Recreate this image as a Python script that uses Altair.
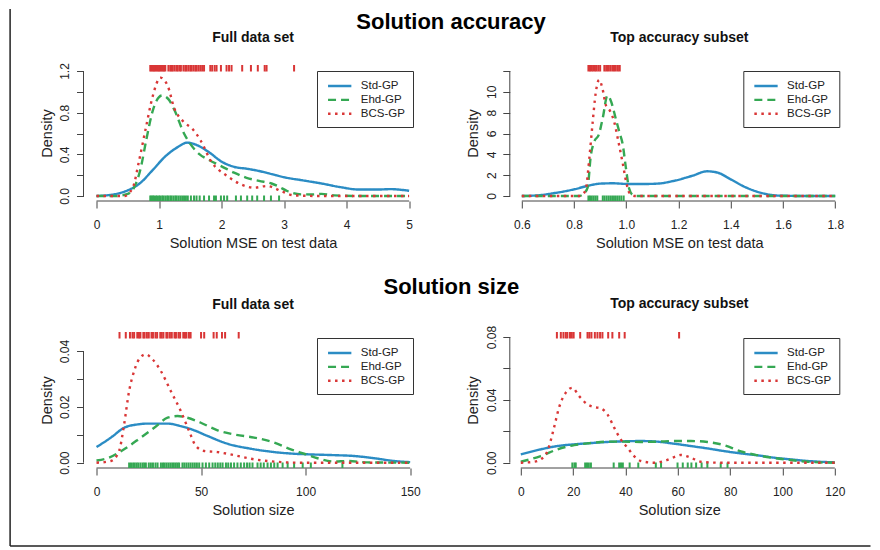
import altair as alt
import pandas as pd

FONT = "Liberation Sans"
SERIES = ["Std-GP", "Ehd-GP", "BCS-GP"]
COLORS = ["#2b8cc4", "#35a853", "#d93636"]
DASHES = [[1, 0], [8, 5], [2.5, 4.5]]
AXC = "#444444"
TXT = "#222222"

# ---------------- Panel A: Solution accuracy, full data set
A_std_x = [0.0, 0.3, 0.5, 0.7, 0.9, 1.1, 1.3, 1.45, 1.6, 1.8, 2.0, 2.2, 2.4, 2.6, 2.8, 3.0, 3.3, 3.6, 3.9, 4.2, 4.5, 4.7, 5.0]
A_std_y = [0.0, 0.018, 0.054, 0.125, 0.25, 0.38, 0.47, 0.512, 0.49, 0.42, 0.33, 0.28, 0.262, 0.24, 0.21, 0.18, 0.15, 0.12, 0.085, 0.062, 0.062, 0.066, 0.05]
A_ehd_x = [0.0, 0.3, 0.5, 0.6, 0.7, 0.8, 0.9, 1.0, 1.05, 1.15, 1.25, 1.4, 1.5, 1.65, 1.8, 2.0, 2.2, 2.4, 2.6, 2.8, 2.9, 3.05, 3.27, 3.45, 3.6, 3.8, 4.2, 5.0]
A_ehd_y = [0.0, 0.0, 0.02, 0.08, 0.25, 0.55, 0.82, 0.95, 0.965, 0.93, 0.82, 0.6, 0.5, 0.4, 0.345, 0.285, 0.224, 0.175, 0.145, 0.12, 0.095, 0.048, 0.016, 0.015, 0.02, 0.006, 0.0, 0.0]
A_bcs_x = [0.0, 0.44, 0.58, 0.68, 0.79, 0.9, 1.02, 1.14, 1.24, 1.38, 1.54, 1.67, 1.83, 2.09, 2.31, 2.52, 2.73, 2.95, 3.16, 3.6, 5.0]
A_bcs_y = [0.0, 0.0, 0.08, 0.336, 0.656, 0.96, 1.136, 1.056, 0.848, 0.72, 0.64, 0.528, 0.336, 0.192, 0.112, 0.08, 0.096, 0.048, 0.006, 0.0, 0.0]
A_rug_bcs = [0.86, 0.88, 0.9, 0.92, 0.94, 0.96, 0.98, 1.0, 1.02, 1.04, 1.06, 1.08, 1.1, 1.15, 1.18, 1.2, 1.22,
             1.25, 1.28, 1.3, 1.33, 1.35, 1.39, 1.42, 1.44, 1.47, 1.5, 1.52, 1.55, 1.58, 1.6, 1.63, 1.66, 1.69,
             1.72, 1.82, 1.85, 1.89, 1.92, 1.99, 2.08, 2.12, 2.16, 2.33, 2.47, 2.58, 2.69, 2.72, 3.16]
A_rug_ehd = [0.86, 0.88, 0.9, 0.92, 0.95, 0.97, 1.0, 1.02, 1.05, 1.07, 1.1, 1.13, 1.15, 1.18, 1.2, 1.23, 1.26,
             1.28, 1.31, 1.34, 1.37, 1.4, 1.43, 1.46, 1.51, 1.56, 1.6, 1.65, 1.72, 1.8, 1.88, 1.91, 1.99, 2.04,
             2.09, 2.23, 2.31, 2.41, 2.49, 2.57, 2.68, 2.79, 2.92]
A_xticks = [0, 1, 2, 3, 4, 5]
A_yticks = [0.0, 0.2, 0.4, 0.6, 0.8, 1.0, 1.2]

# ---------------- Panel B: Solution accuracy, top accuracy subset
B_std_x = [0.6, 0.66, 0.72, 0.8, 0.85, 0.9, 0.95, 1.0, 1.06, 1.12, 1.18, 1.25, 1.31, 1.35, 1.4, 1.46, 1.53, 1.59, 1.7, 1.8]
B_std_y = [0.0, 0.06, 0.26, 0.64, 0.96, 1.19, 1.22, 1.16, 1.15, 1.19, 1.44, 1.92, 2.37, 2.24, 1.6, 0.8, 0.22, 0.03, 0.0, 0.0]
B_ehd_x = [0.6, 0.82, 0.84, 0.852, 0.864, 0.877, 0.895, 0.91, 0.928, 0.94, 0.96, 0.975, 0.986, 0.998, 1.011, 1.025, 1.04, 1.8]
B_ehd_y = [0.0, 0.0, 0.3, 0.8, 3.85, 5.2, 5.9, 7.5, 9.65, 9.2, 7.4, 6.0, 5.0, 2.8, 0.7, 0.1, 0.0, 0.0]
B_bcs_x = [0.6, 0.82, 0.835, 0.845, 0.858, 0.871, 0.883, 0.896, 0.909, 0.922, 0.937, 0.955, 0.97, 0.986, 1.0, 1.012, 1.03, 1.8]
B_bcs_y = [0.0, 0.0, 0.2, 0.64, 3.5, 7.0, 9.9, 11.15, 10.3, 8.7, 8.2, 7.0, 5.2, 3.2, 1.3, 0.3, 0.0, 0.0]
B_rug_bcs = [0.855, 0.861, 0.867, 0.873, 0.88, 0.886, 0.893, 0.9, 0.916, 0.923, 0.93, 0.938, 0.946, 0.953, 0.96, 0.968, 0.975]
B_rug_ehd = [0.855, 0.861, 0.868, 0.875, 0.882, 0.889, 0.91, 0.917, 0.925, 0.933, 0.941, 0.949, 0.957, 0.965, 0.973, 0.981, 0.99]
B_xticks = [0.6, 0.8, 1.0, 1.2, 1.4, 1.6, 1.8]
B_yticks = [0, 2, 4, 6, 8, 10, 12]

# ---------------- Panel C: Solution size, full data set
C_std_x = [0, 6.9, 13.2, 19.6, 24.4, 34, 40.3, 46.7, 53, 62.6, 73.8, 85, 94.5, 100.9, 113.7, 123.2, 132.8, 142.4, 150]
C_std_y = [0.0056, 0.009, 0.0125, 0.0137, 0.014, 0.014, 0.0131, 0.0116, 0.0096, 0.0068, 0.005, 0.0038, 0.0032, 0.003, 0.0027, 0.0024, 0.0016, 0.0006, 0.0002]
C_ehd_x = [0, 5.3, 13.2, 21.2, 27.6, 34, 38.7, 43.5, 49.9, 57.9, 65.8, 75.4, 85, 92.9, 99.3, 105.7, 113.7, 120, 129.6, 150]
C_ehd_y = [0.0008, 0.0016, 0.0048, 0.009, 0.0125, 0.0161, 0.0167, 0.0161, 0.0143, 0.0116, 0.0101, 0.009, 0.0072, 0.0048, 0.0032, 0.0016, 0.0004, 0.0006, 0.0001, 0.0]
C_bcs_x = [0, 6.9, 10.8, 13.2, 15.6, 18, 21.2, 23.6, 26.8, 30.8, 35.5, 40.3, 44.3, 47.5, 51.5, 57.9, 65.8, 75.4, 85, 97.7, 150]
C_bcs_y = [0.0, 0.0006, 0.0042, 0.0137, 0.0257, 0.0328, 0.0379, 0.0388, 0.037, 0.0328, 0.0257, 0.0185, 0.0113, 0.006, 0.0042, 0.0038, 0.0027, 0.0012, 0.0004, 0.0, 0.0]
C_rug_bcs = [11, 14, 16, 17.2, 18, 19.5, 20.3, 21, 22.4, 23, 24.1, 25, 26.3, 27, 28.2, 29, 30.5, 31.2, 32, 33.4,
             34, 35.1, 36, 37.3, 38, 39.2, 40, 41.5, 42.3, 43, 44.2, 45, 50, 51.5, 56, 57.5, 60, 61.5, 68]
C_rug_ehd = [15.6, 16.5, 17.5, 18.3, 19.2, 20, 21, 22, 22.8, 23.6, 25, 26, 27, 28.2, 29.2, 30.8, 31.8, 32.6,
             33.5, 34.4, 35.3, 36.2, 37, 37.9, 38.7, 39.5, 41.1, 42, 43, 44, 45, 46, 47, 48, 49.1, 50.7, 52.3,
             53.9, 55.5, 56.8, 58, 59.2, 60.3, 61.9, 63, 64.3, 65.8, 67.4, 69, 70.6, 72, 73.2, 74.6, 77, 78.5,
             80, 81.8, 83.4, 85, 86.6, 89, 91.4, 94.5, 98.6, 102.5, 117.6]
C_xticks = [0, 50, 100, 150]
C_yticks = [0.0, 0.01, 0.02, 0.03, 0.04]

# ---------------- Panel D: Solution size, top accuracy subset
D_std_x = [0, 7.6, 14, 20.4, 26.8, 33.1, 39.5, 45.9, 52.2, 58.6, 65, 71.3, 77.7, 84.1, 90.4, 96.8, 103.2, 109.6, 120]
D_std_y = [0.0053, 0.0085, 0.0106, 0.0117, 0.0125, 0.0132, 0.0136, 0.0138, 0.0134, 0.0121, 0.0106, 0.0091, 0.0074, 0.0059, 0.0047, 0.0032, 0.0021, 0.0011, 0.0002]
D_ehd_x = [0, 7.6, 14, 20.4, 26.8, 33.1, 39.5, 45.9, 52.2, 58.6, 65, 71.3, 77.7, 84.1, 90.4, 96.8, 103.2, 109.6, 120]
D_ehd_y = [0.0006, 0.0042, 0.0085, 0.0112, 0.0125, 0.0134, 0.0134, 0.0132, 0.0134, 0.0138, 0.0138, 0.0132, 0.0112, 0.0072, 0.0048, 0.003, 0.0017, 0.0006, 0.0]
D_bcs_x = [0, 5.1, 7.6, 10.2, 12.7, 14.6, 17.2, 19.7, 22.3, 25.5, 28, 30.6, 33.1, 35.7, 38.2, 40.8, 43.3, 45.9, 51, 54.8, 58.6, 61.1, 65, 68.8, 76, 120]
D_bcs_y = [0.0, 0.0006, 0.0021, 0.0074, 0.0223, 0.035, 0.0446, 0.0477, 0.0424, 0.0371, 0.0354, 0.0346, 0.0308, 0.0223, 0.0149, 0.0095, 0.0042, 0.0011, 0.0, 0.0011, 0.0036, 0.0049, 0.0032, 0.0006, 0.0, 0.0]
D_rug_bcs = [13.8, 15.3, 16.3, 17.2, 17.8, 18.8, 19.5, 20.2, 22.7, 25.5, 26.2, 27, 28.3, 29.3, 30.3, 31.2, 33.4, 35, 37.6, 39.7, 60.5]
D_rug_ehd = [19.7, 20.5, 21, 24.6, 25.3, 26, 26.8, 35.5, 37.6, 38.3, 39, 41.6, 44.9, 51.6, 53.6, 59.9, 61.9,
             63.8, 65.2, 67, 69.1, 71.3, 76.4, 79]
D_xticks = [0, 20, 40, 60, 80, 100, 120]
D_yticks = [0.0, 0.02, 0.04, 0.06, 0.08]

W, H = 339, 136
ROWGAP = 131


def panel(title, curves, rug_top, rug_bot, xdom, ydom, xticks, yticks, xfmt, ylab, xtitle, toff, frame=None):
    rows = []
    for s, (xs_, ys_) in zip(SERIES, curves):
        for a, b in zip(xs_, ys_):
            rows.append({"series": s, "x": a, "y": b})
    df = pd.DataFrame(rows)
    xsc = alt.Scale(domain=xdom, nice=False, zero=False)
    ysc = alt.Scale(domain=ydom, nice=False, zero=False)
    xaxis = alt.Axis(values=xticks, format=xfmt, domain=False, grid=False, tickSize=7, tickColor=AXC,
                     tickWidth=1, labelFont=FONT, labelFontSize=12, labelColor=TXT, labelBaseline="alphabetic",
                     labelPadding=20, labelFlush=False, labelOverlap=False, title=xtitle, titleFont=FONT,
                     titleFontSize=14.5, titleFontWeight="normal", titleColor=TXT, titleBaseline="alphabetic",
                     titleY=46)
    yaxis = alt.Axis(values=yticks, labelExpr=ylab, domain=False, grid=False, tickSize=7, tickColor=AXC,
                     tickWidth=1, labelFont=FONT, labelFontSize=12, labelColor=TXT, labelAngle=270,
                     labelAlign="center", labelBaseline="alphabetic", labelPadding=7.8, labelFlush=False,
                     labelOverlap=False, title="Density", titleFont=FONT, titleFontSize=14.5,
                     titleFontWeight="normal", titleColor=TXT, titleAngle=270, titleAlign="center",
                     titleBaseline="alphabetic", titleX=-32, titleY=H / 2)
    legend = alt.Legend(title=None, orient="none", legendX=233.5, legendY=6, symbolType="M-2,0H2",
                        symbolSize=136, symbolStrokeWidth=2.4, labelFont=FONT, labelFontSize=11.5,
                        labelColor=TXT, padding=7.5, rowPadding=0.85, symbolOffset=7.7, labelOffset=13.6,
                        strokeColor="#333333", fillColor="white", cornerRadius=0, labelLimit=200)
    lines = alt.Chart(df).mark_line(strokeWidth=2.4, interpolate="monotone").encode(
        x=alt.X("x:Q", scale=xsc, axis=xaxis),
        y=alt.Y("y:Q", scale=ysc, axis=yaxis),
        color=alt.Color("series:N", scale=alt.Scale(domain=SERIES, range=COLORS), legend=legend, sort=SERIES),
        strokeDash=alt.StrokeDash("series:N", scale=alt.Scale(domain=SERIES, range=DASHES), legend=legend,
                                  sort=SERIES),
    )
    rt = alt.Chart(pd.DataFrame({"x": rug_top})).mark_rule(color=COLORS[2], strokeWidth=2).encode(
        x=alt.X("x:Q", scale=xsc, axis=xaxis), y=alt.value(0), y2=alt.value(6.5))
    rb = alt.Chart(pd.DataFrame({"x": rug_bot})).mark_rule(color=COLORS[1], strokeWidth=2).encode(
        x=alt.X("x:Q", scale=xsc, axis=xaxis), y=alt.value(H - 5.5), y2=alt.value(H))
    axx = alt.Chart(pd.DataFrame({"x": [xticks[0]], "x2": [xticks[-1]]})).mark_rule(
        color=AXC, strokeWidth=1).encode(x=alt.X("x:Q", scale=xsc, axis=xaxis), x2="x2:Q", y=alt.value(H))
    axy = alt.Chart(pd.DataFrame({"y": [yticks[0]], "y2": [yticks[-1]]})).mark_rule(
        color=AXC, strokeWidth=1).encode(y=alt.Y("y:Q", scale=ysc, axis=yaxis), y2="y2:Q", x=alt.value(0))
    layers = [axx, axy, rb, rt, lines]
    if frame == "upper":
        layers.append(alt.Chart().mark_rule(color="#222222", strokeWidth=1.5).encode(
            x=alt.value(-73.4), y=alt.value(-56), y2=alt.value(H + ROWGAP)))
    if frame == "lower":
        layers.append(alt.Chart().mark_rule(color="#222222", strokeWidth=1.5).encode(
            x=alt.value(-73.4), y=alt.value(0), y2=alt.value(214)))
        layers.append(alt.Chart().mark_rule(color="#222222", strokeWidth=1.5).encode(
            x=alt.value(-73.4), x2=alt.value(787), y=alt.value(214)))
    return alt.layer(*layers).properties(
        width=W, height=H,
        title=alt.TitleParams(title, font=FONT, fontSize=14, fontWeight="bold", color="#111111",
                              anchor="middle", frame="group", offset=toff, baseline="alphabetic"))


pA = panel("Full data set", [(A_std_x, A_std_y), (A_ehd_x, A_ehd_y), (A_bcs_x, A_bcs_y)], A_rug_bcs, A_rug_ehd,
           [-0.208, 5.214], [-0.048, 1.2576], A_xticks, A_yticks, "d",
           "round(datum.value*10) % 4 == 0 ? format(datum.value, '.1f') : ''", "Solution MSE on test data",
           -48.1, frame="upper")
pB = panel("Top accuracy subset", [(B_std_x, B_std_y), (B_ehd_x, B_ehd_y), (B_bcs_x, B_bcs_y)], B_rug_bcs,
           B_rug_ehd, [0.554, 1.852], [-0.48, 12.576], B_xticks, B_yticks, ".1f",
           "datum.value < 11 ? format(datum.value, 'd') : ''", "Solution MSE on test data", 7.8)
pC = panel("Full data set", [(C_std_x, C_std_y), (C_ehd_x, C_ehd_y), (C_bcs_x, C_bcs_y)], C_rug_bcs, C_rug_ehd,
           [-6.22, 155.9], [-0.0019, 0.0468], C_xticks, C_yticks, "d",
           "round(datum.value*100) % 2 == 0 ? format(datum.value, '.2f') : ''", "Solution size",
           8.5, frame="lower")
pD = panel("Top accuracy subset", [(D_std_x, D_std_y), (D_ehd_x, D_ehd_y), (D_bcs_x, D_bcs_y)], D_rug_bcs,
           D_rug_ehd, [-4.2, 125.35], [-0.00337, 0.0832], D_xticks, D_yticks, "d",
           "round(datum.value*100) % 4 == 0 ? format(datum.value, '.2f') : ''", "Solution size", 3)


def row(a, b, title, dx, off):
    return alt.hconcat(a, b, spacing=87.3, bounds="flush").resolve_scale(
        color="independent", strokeDash="independent").resolve_legend(
        color="independent", strokeDash="independent").properties(
        title=alt.TitleParams(title, font=FONT, fontSize=22, fontWeight="bold", color="#000000",
                              anchor="middle", offset=off, baseline="alphabetic", dx=dx))


chart = alt.vconcat(row(pA, pB, "Solution accuracy", 22, -42.25), row(pC, pD, "Solution size", 11, -18.5),
                    spacing=H + ROWGAP, bounds="flush").resolve_scale(
    color="independent", strokeDash="independent").resolve_legend(
    color="independent", strokeDash="independent").properties(
    padding={"left": 0.5, "top": 0, "right": 0, "bottom": 0}).configure_view(strokeWidth=0)

chart.save("out.html", embed_options={"renderer": "svg", "actions": False})
